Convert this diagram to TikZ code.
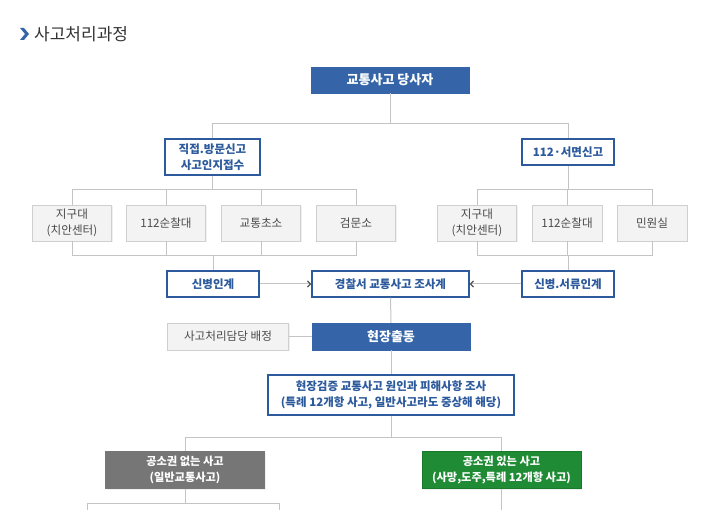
\documentclass[tikz,border=0pt]{standalone}
\usepackage{fontspec}
\setmainfont{Noto Sans CJK KR}
\usetikzlibrary{arrows.meta,shadows}
\definecolor{bluefill}{HTML}{3565A8}
\definecolor{bluetext}{HTML}{2C5A9C}
\definecolor{grayfill}{HTML}{F3F3F3}
\definecolor{grayline}{HTML}{CFCFCF}
\definecolor{graytext}{HTML}{4A4A4A}
\definecolor{darkgray}{HTML}{767676}
\definecolor{greenfill}{HTML}{1F8B35}
\definecolor{greenline}{HTML}{177A2B}
\definecolor{conn}{HTML}{C4C4C4}
\definecolor{tipcol}{HTML}{555555}
\definecolor{titlecol}{HTML}{333333}
\tikzset{
  box/.style={rectangle, inner sep=0pt, align=center, font=\fontsize{11.6}{15.5}\selectfont,
    drop shadow={shadow xshift=1pt, shadow yshift=-1pt, opacity=0.12}},
  solidblue/.style={box, fill=bluefill, draw=bluefill, text=white, font=\fontsize{13}{15}\selectfont\bfseries},
  outlineblue/.style={box, fill=white, draw=bluetext, line width=1.2pt, text=bluetext, font=\fontsize{11.5}{15.5}\selectfont\bfseries},
  graybox/.style={box, fill=grayfill, draw=grayline, line width=0.8pt, text=graytext},
  darkbox/.style={box, fill=darkgray, draw=darkgray, text=white, font=\fontsize{11.2}{15.5}\selectfont\bfseries},
  greenbox/.style={box, fill=greenfill, draw=greenline, line width=0.8pt, text=white, font=\fontsize{11.2}{15.5}\selectfont\bfseries},
  link/.style={draw=conn, line width=1pt},
  arrowlink/.style={link, -{Straight Barb[length=3pt,width=6pt,color=tipcol,line width=1.3pt]}},
}
\begin{document}
\begin{tikzpicture}[x=1pt,y=-1pt]
\useasboundingbox (0,0) rectangle (722,510);
% title
\fill[bluefill] (20,28) -- (24,28) -- (29,34) -- (24,40) -- (20,40) -- (25,34) -- cycle;
\node[anchor=west, inner sep=0pt, text=titlecol, font=\fontsize{17}{18}\selectfont] (title) at (34,34.5) {사고처리과정};

% nodes
\node[solidblue, minimum width=158pt, minimum height=26pt] (top) at (390,80) {교통사고 당사자};
\node[outlineblue, minimum width=95pt, minimum height=36pt] (a1) at (212.5,157) {직접.방문신고\\사고인지접수};
\node[outlineblue, minimum width=92pt, minimum height=26pt] (a2) at (568,152) {112·서면신고};

\node[graybox, minimum width=79pt, minimum height=36pt] (g1) at (72,223) {지구대\\(치안센터)};
\node[graybox, minimum width=79pt, minimum height=36pt] (g2) at (166,223) {112순찰대};
\node[graybox, minimum width=79pt, minimum height=36pt] (g3) at (261,223) {교통초소};
\node[graybox, minimum width=79pt, minimum height=36pt] (g4) at (356,223) {검문소};

\node[graybox, minimum width=79pt, minimum height=36pt] (g5) at (477,223) {지구대\\(치안센터)};
\node[graybox, minimum width=70pt, minimum height=36pt] (g6) at (567,223) {112순찰대};
\node[graybox, minimum width=70pt, minimum height=36pt] (g7) at (652,223) {민원실};

\node[outlineblue, minimum width=92pt, minimum height=26pt] (b1) at (213,284) {신병인계};
\node[outlineblue, minimum width=157pt, minimum height=26pt] (b2) at (390.5,284) {경찰서 교통사고 조사계};
\node[outlineblue, minimum width=92pt, minimum height=26pt] (b3) at (568,284) {신병.서류인계};

\node[graybox, minimum width=121pt, minimum height=27pt] (c1) at (228,336.5) {사고처리담당 배정};
\node[solidblue, minimum width=158pt, minimum height=27pt] (c2) at (391,336.5) {현장출동};

\node[outlineblue, minimum width=246pt, minimum height=40pt] (d) at (391,395) {현장검증 교통사고 원인과 피해사항 조사\\(특례 12개항 사고, 일반사고라도 중상해 해당)};

\node[darkbox, minimum width=159pt, minimum height=37pt] (e1) at (185,470) {공소권 없는 사고\\(일반교통사고)};
\node[greenbox, minimum width=159pt, minimum height=37pt] (e2) at (501.5,470) {공소권 있는 사고\\(사망,도주,특례 12개항 사고)};

% coordinates
\coordinate (j1) at (390,124);
\coordinate (j1l) at (212.5,124);
\coordinate (j1r) at (568,124);
\coordinate (h1) at (212.5,190);
\coordinate (h1l) at (72,190);
\coordinate (h1r) at (356,190);
\coordinate (k1l) at (72,256);
\coordinate (k1r) at (356,256);
\coordinate (h2) at (568,190);
\coordinate (h2l) at (477,190);
\coordinate (h2r) at (652,190);
\coordinate (k2l) at (477,256);
\coordinate (k2r) at (652,256);
\coordinate (m) at (391,437);
\coordinate (ml) at (185,437);
\coordinate (mr) at (501.5,437);
\coordinate (n) at (185,503);
\coordinate (nl) at (87,503);
\coordinate (nr) at (279,503);
\coordinate (nle) at (87,510);
\coordinate (nre) at (279,510);
\coordinate (pe) at (501.5,510);

% connectors
\draw[link] (top.south) -- (j1);
\draw[link] (a1.north) -- (j1l) -- (j1r) -- (a2.north);
\draw[link] (a1.south) -- (h1);
\draw[link] (g1.north) -- (h1l) -- (h1r) -- (g4.north);
\draw[link] (g2.north) -- (g2.north |- h1);
\draw[link] (g3.north) -- (g3.north |- h1);
\draw[link] (g1.south) -- (k1l) -- (k1r) -- (g4.south);
\draw[link] (g2.south) -- (g2.south |- k1l);
\draw[link] (g3.south) -- (g3.south |- k1l);
\draw[link] (b1.north) -- (b1.north |- k1l);
\draw[link] (a2.south) -- (h2);
\draw[link] (g5.north) -- (h2l) -- (h2r) -- (g7.north);
\draw[link] (g6.north) -- (g6.north |- h2);
\draw[link] (g5.south) -- (k2l) -- (k2r) -- (g7.south);
\draw[link] (g6.south) -- (g6.south |- k2l);
\draw[link] (b3.north) -- (b3.north |- k2l);
\draw[arrowlink] (b1.east) -- (b2.west);
\draw[arrowlink] (b3.west) -- (b2.east);
\draw[link] (b2.south) -- (c2.north);
\draw[link] (c1.east) -- (c2.west);
\draw[link] (c2.south) -- (d.north);
\draw[link] (d.south) -- (m);
\draw[link] (e1.north) -- (ml) -- (mr) -- (e2.north);
\draw[link] (e1.south) -- (n);
\draw[link] (nle) -- (nl) -- (nr) -- (nre);
\draw[link] (e2.south) -- (pe);
\end{tikzpicture}
\end{document}
